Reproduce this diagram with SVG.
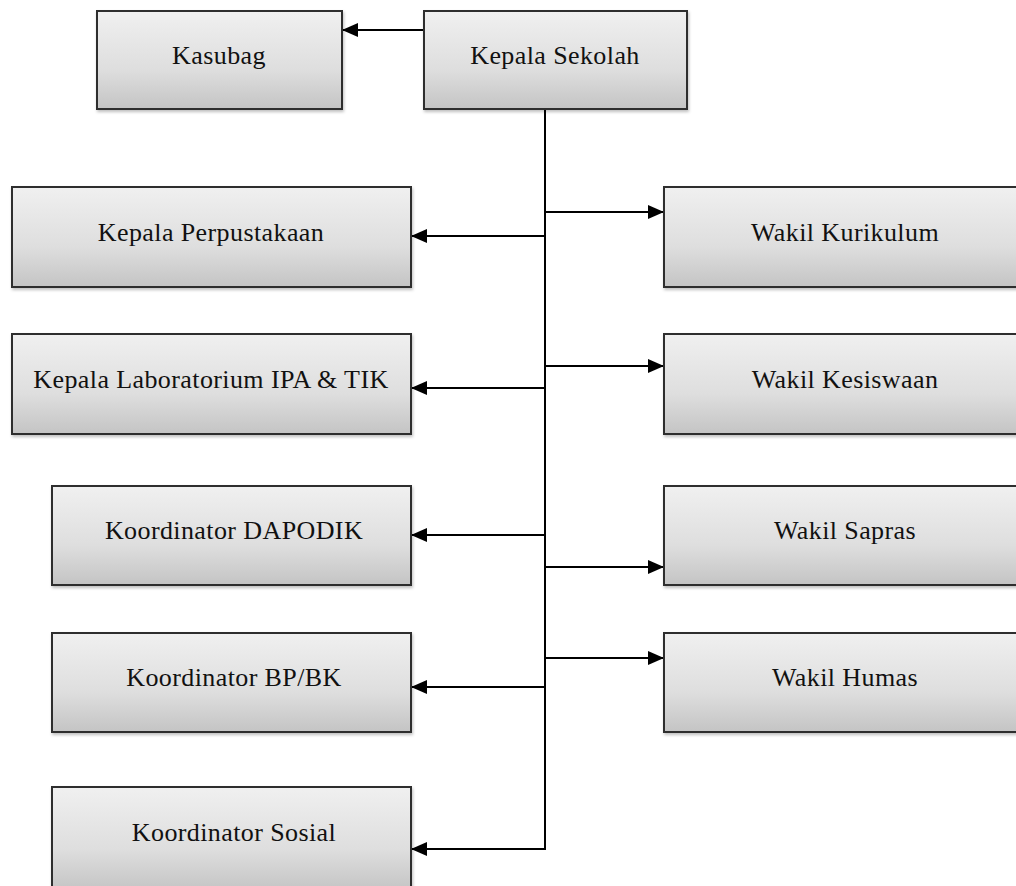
<svg xmlns="http://www.w3.org/2000/svg" width="1016" height="886" viewBox="0 0 1016 886">
<style>
.box{fill:url(#g);stroke:#2e2e2e;stroke-width:2;filter:url(#sh)}
.lbl{font-family:"Liberation Serif","Times New Roman",serif;font-size:26px;letter-spacing:0.4px;fill:#111;text-anchor:middle}
.con{fill:none;stroke:#000;stroke-width:2}
</style>
<defs>
<linearGradient id="g" x1="0" y1="0" x2="0" y2="1">
<stop offset="0" stop-color="#f0f0f0"/>
<stop offset="0.6" stop-color="#dedede"/>
<stop offset="1" stop-color="#c4c4c4"/>
</linearGradient>
<filter id="sh" x="-5%" y="-5%" width="110%" height="115%">
<feDropShadow dx="1" dy="2" stdDeviation="1.5" flood-color="#000" flood-opacity="0.25"/>
</filter>
<marker id="ah" markerUnits="userSpaceOnUse" markerWidth="16" markerHeight="14" viewBox="0 0 16 14" refX="15" refY="7" orient="auto">
<path d="M0,0 L16,7 L0,14 Z" fill="#000"/>
</marker>
</defs>
<g id="connectors">
<line class="con" x1="424" y1="30" x2="343" y2="30" marker-end="url(#ah)"/>
<line class="con" x1="545" y1="109" x2="545" y2="849"/>
<line class="con" x1="545" y1="236" x2="412" y2="236" marker-end="url(#ah)"/>
<line class="con" x1="545" y1="388" x2="412" y2="388" marker-end="url(#ah)"/>
<line class="con" x1="545" y1="535" x2="412" y2="535" marker-end="url(#ah)"/>
<line class="con" x1="545" y1="687" x2="412" y2="687" marker-end="url(#ah)"/>
<polyline class="con" points="545,848 545,849 412,849" marker-end="url(#ah)"/>
<line class="con" x1="545" y1="212" x2="663" y2="212" marker-end="url(#ah)"/>
<line class="con" x1="545" y1="366" x2="663" y2="366" marker-end="url(#ah)"/>
<line class="con" x1="545" y1="567" x2="663" y2="567" marker-end="url(#ah)"/>
<line class="con" x1="545" y1="658" x2="663" y2="658" marker-end="url(#ah)"/>
</g>
<g id="kasubag"><rect class="box" x="97" y="11" width="245" height="98"/><text class="lbl" x="219" y="64">Kasubag</text></g>
<g id="kepala-sekolah"><rect class="box" x="424" y="11" width="263" height="98"/><text class="lbl" x="555" y="64">Kepala Sekolah</text></g>
<g id="kepala-perpustakaan"><rect class="box" x="12" y="187" width="399" height="100"/><text class="lbl" x="211" y="241">Kepala Perpustakaan</text></g>
<g id="kepala-lab"><rect class="box" x="12" y="334" width="399" height="100"/><text class="lbl" x="211" y="388">Kepala Laboratorium IPA &amp; TIK</text></g>
<g id="koordinator-dapodik"><rect class="box" x="52" y="486" width="359" height="99"/><text class="lbl" x="234" y="539">Koordinator DAPODIK</text></g>
<g id="koordinator-bpbk"><rect class="box" x="52" y="633" width="359" height="99"/><text class="lbl" x="234" y="686">Koordinator BP/BK</text></g>
<g id="koordinator-sosial"><rect class="box" x="52" y="787" width="359" height="104"/><text class="lbl" x="234" y="841">Koordinator Sosial</text></g>
<g id="wakil-kurikulum"><rect class="box" x="664" y="187" width="362" height="100"/><text class="lbl" x="845" y="241">Wakil Kurikulum</text></g>
<g id="wakil-kesiswaan"><rect class="box" x="664" y="334" width="362" height="100"/><text class="lbl" x="845" y="388">Wakil Kesiswaan</text></g>
<g id="wakil-sapras"><rect class="box" x="664" y="486" width="362" height="99"/><text class="lbl" x="845" y="539">Wakil Sapras</text></g>
<g id="wakil-humas"><rect class="box" x="664" y="633" width="362" height="99"/><text class="lbl" x="845" y="686">Wakil Humas</text></g>
</svg>
